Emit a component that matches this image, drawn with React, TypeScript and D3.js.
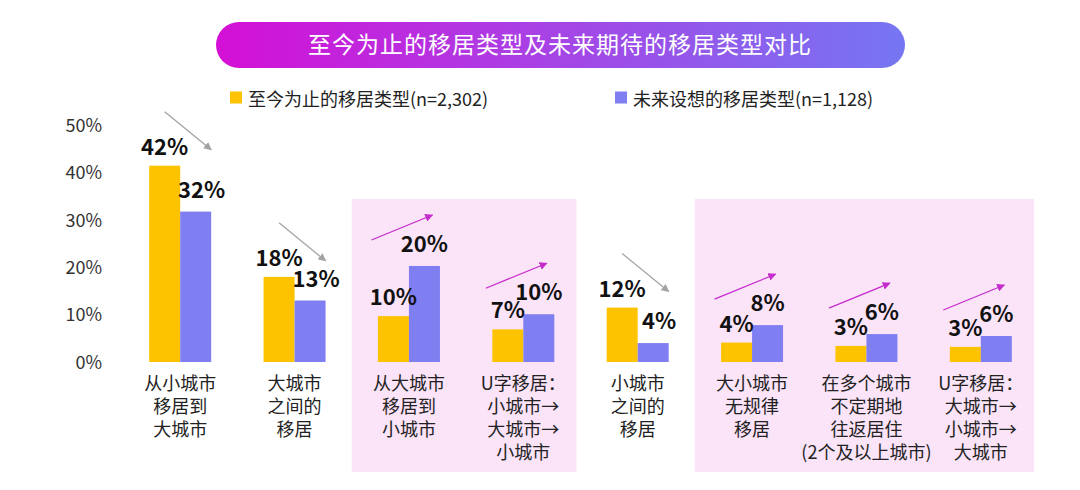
import React from "react";
import * as d3 from "d3";

const categories: string[][] = [
  ["从小城市", "移居到", "大城市"],
  ["大城市", "之间的", "移居"],
  ["从大城市", "移居到", "小城市"],
  ["U字移居：", "小城市→", "大城市→", "小城市"],
  ["小城市", "之间的", "移居"],
  ["大小城市", "无规律", "移居"],
  ["在多个城市", "不定期地", "往返居住", "(2个及以上城市)"],
  ["U字移居：", "大城市→", "小城市→", "大城市"],
];
const pastValues = [41.5, 18, 9.7, 6.9, 11.5, 4.1, 3.4, 3.2];
const futureValues = [31.8, 13, 20.3, 10.1, 4, 7.8, 5.9, 5.5];
const yTicks = [0, 10, 20, 30, 40, 50];
const highlightGroups = [
  [2, 3],
  [5, 7],
];
const seriesNames = ["至今为止的移居类型(n=2,302)", "未来设想的移居类型(n=1,128)"];
const title = "至今为止的移居类型及未来期待的移居类型对比";

const W = 1080;
const H = 490;
const YELLOW = "#fdc300";
const PURPLE = "#7f7ff2";
const FONT = "'Noto Sans CJK SC', 'Noto Sans', sans-serif";

export default function App() {
  const ids = categories.map((_, i) => String(i));
  const x = d3.scaleBand<string>().domain(ids).range([123, 1038]).padding(0);
  const y = d3.scaleLinear().domain([0, 50]).range([362, 125.5]);
  const bw = 31;
  const center = (i: number) => (x(String(i)) as number) + x.bandwidth() / 2;

  return (
    <svg width={W} height={H} style={{ display: "block", position: "absolute", left: 0, top: 0 }} fontFamily={FONT}>
      <defs>
        <linearGradient id="titleGrad" x1="0" x2="1" y1="0" y2="0">
          <stop offset="0%" stopColor="#d40fd6" />
          <stop offset="50%" stopColor="#a545e6" />
          <stop offset="100%" stopColor="#7676f2" />
        </linearGradient>
        <marker id="arrGray" viewBox="0 0 10 10" refX="9" refY="5" markerWidth="8" markerHeight="8" orient="auto" markerUnits="userSpaceOnUse">
          <path d="M0,0 L10,5 L0,10 z" fill="#a3a3a3" />
        </marker>
        <marker id="arrPink" viewBox="0 0 10 10" refX="9" refY="5" markerWidth="8" markerHeight="8" orient="auto" markerUnits="userSpaceOnUse">
          <path d="M0,0 L10,5 L0,10 z" fill="#c42ccc" />
        </marker>
      </defs>
      <rect x={0} y={0} width={W} height={H} fill="#ffffff" />

      {/* title pill */}
      <rect x={216} y={22} width={689} height={46} rx={23} fill="url(#titleGrad)" />
      <text x={560} y={52.5} textAnchor="middle" fill="#ffffff" fontSize={23} letterSpacing={1}>
        {title}
      </text>

      {/* highlight panels */}
      {highlightGroups.map(([a, b], k) => {
        const x0 = x(String(a)) as number;
        const x1 = (x(String(b)) as number) + x.bandwidth() - 4;
        return <rect key={k} x={x0} y={199} width={x1 - x0} height={273} fill="#fbe3f8" />;
      })}

      {/* legend */}
      <rect x={230} y={91.5} width={12} height={12} fill={YELLOW} />
      <text x={248} y={105.5} fontSize={18} fill="#222">{seriesNames[0]}</text>
      <rect x={615} y={91.5} width={12} height={12} fill={PURPLE} />
      <text x={633} y={105.5} fontSize={18} fill="#222">{seriesNames[1]}</text>

      {/* y ticks */}
      {yTicks.map((t) => (
        <text key={t} x={102} y={y(t) + 6.5} textAnchor="end" fontSize={18} fill="#333">
          {t}%
        </text>
      ))}

      {/* bars */}
      {categories.map((_, i) => {
        const c = center(i);
        const pv = pastValues[i];
        const fv = futureValues[i];
        const down = fv < pv;
        return (
          <g key={i}>
            <rect x={c - bw} y={y(pv)} width={bw} height={y(0) - y(pv)} fill={YELLOW} />
            <rect x={c} y={y(fv)} width={bw} height={y(0) - y(fv)} fill={PURPLE} />
            <text x={c - bw / 2} y={y(pv) - 11} textAnchor="middle" fontSize={22} fontWeight={700} fill="#111">
              {Math.round(pv)}%
            </text>
            <text x={c + bw / 2 + (down ? 6 : 0)} y={y(fv) - 14} textAnchor="middle" fontSize={22} fontWeight={700} fill="#111">
              {Math.round(fv)}%
            </text>
          </g>
        );
      })}

      {/* trend arrows */}
      {categories.map((_, i) => {
        const c = center(i);
        const pv = pastValues[i];
        const fv = futureValues[i];
        if (fv < pv) {
          const sx = c - bw / 2;
          const sy = y(pv) - 54;
          return (
            <line key={i} x1={sx} y1={sy} x2={sx + 46.5} y2={sy + 38} stroke="#a3a3a3" strokeWidth={1.3} markerEnd="url(#arrGray)" />
          );
        }
        const ex = c + bw / 2 + 8;
        const ey = y(fv) - 51;
        return (
          <line key={i} x1={ex - 61} y1={ey + 25} x2={ex} y2={ey} stroke="#c42ccc" strokeWidth={1.3} markerEnd="url(#arrPink)" />
        );
      })}

      {/* category labels */}
      {categories.map((lines, i) => (
        <text key={i} textAnchor="middle" fontSize={18} fill="#222">
          {lines.map((ln, j) => (
            <tspan key={j} x={center(i)} y={389.5 + j * 23.3}>
              {ln}
            </tspan>
          ))}
        </text>
      ))}
    </svg>
  );
}
